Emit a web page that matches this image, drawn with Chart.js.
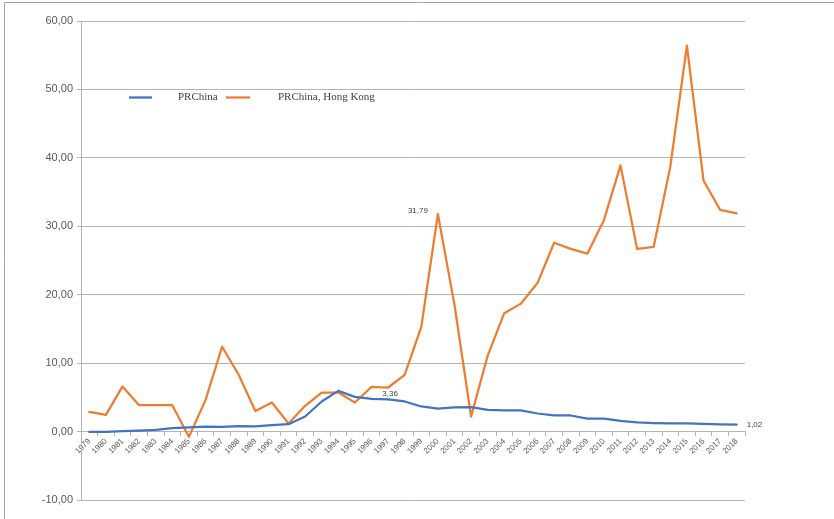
<!DOCTYPE html>
<html>
<head>
<meta charset="utf-8">
<script src="https://cdn.jsdelivr.net/npm/chart.js@4.4.1/dist/chart.umd.min.js"></script>
<style>
html,body{margin:0;padding:0;background:#fff;}
#wrap{width:834px;height:519px;position:relative;}
</style>
</head>
<body>
<div id="wrap"><canvas id="c" width="834" height="519"></canvas></div>
<script>
const years = ['1979','1980','1981','1982','1983','1984','1985','1986','1987','1988','1989','1990','1991','1992','1993','1994','1995','1996','1997','1998','1999','2000','2001','2002','2003','2004','2005','2006','2007','2008','2009','2010','2011','2012','2013','2014','2015','2016','2017','2018'];
const prChina = [-0.05,-0.05,0.05,0.15,0.25,0.5,0.63,0.73,0.7,0.8,0.75,0.93,1.08,2.2,4.4,5.95,5.07,4.78,4.69,4.4,3.67,3.36,3.52,3.57,3.17,3.08,3.1,2.64,2.35,2.35,1.9,1.9,1.57,1.33,1.23,1.18,1.18,1.13,1.05,1.02];
const hongKong = [2.88,2.44,6.6,3.86,3.86,3.86,-0.77,4.6,12.4,8.3,3.0,4.25,1.18,3.76,5.7,5.7,4.25,6.54,6.44,8.3,15.3,31.79,18.5,2.2,11.1,17.3,18.7,21.7,27.6,26.7,26.0,30.9,38.9,26.7,27.0,38.7,56.4,36.7,32.4,31.9];
const seriesNames = ['PRChina','PRChina, Hong Kong'];
const yMin = -10, yMax = 60, yStep = 10;
const dataLabels = [
  {series:1, index:21, text:'31,79'},
  {series:0, index:21, text:'3,36'},
  {series:0, index:39, text:'1,02'}
];

const colors = ['#4472C4','#ED7D31'];
const gridColor = '#b4b4b4';

const labelOffsets = [
  {dx:-10, dy:-3, align:'right'},
  {dx:-40, dy:-15, align:'right'},
  {dx:10, dy:0, align:'left'}
];

const extras = {
  id:'extras',
  afterDraw(chart){
    const ctx = chart.ctx;
    ctx.save();
    ctx.strokeStyle = '#a6a6a6';
    ctx.lineWidth = 1;
    ctx.beginPath();
    ctx.moveTo(4.5, 519);
    ctx.lineTo(4.5, 2.5);
    ctx.lineTo(834, 2.5);
    ctx.stroke();
    ctx.font = '8px "Liberation Sans", Arial, sans-serif';
    ctx.fillStyle = '#404040';
    ctx.textBaseline = 'middle';
    dataLabels.forEach((d, i) => {
      const meta = chart.getDatasetMeta(d.series);
      const pt = meta.data[d.index];
      const o = labelOffsets[i];
      ctx.textAlign = o.align;
      ctx.fillText(d.text, pt.x + o.dx, pt.y + o.dy);
    });
    const items = [
      {x1:129, x2:152, tx:178},
      {x1:226, x2:250, tx:278}
    ];
    const ly = 97.5;
    ctx.font = '11px "Liberation Serif", "Times New Roman", serif';
    ctx.fillStyle = '#404040';
    ctx.textAlign = 'left';
    items.forEach((it, i) => {
      ctx.strokeStyle = colors[i];
      ctx.lineWidth = 2.25;
      ctx.beginPath();
      ctx.moveTo(it.x1, ly);
      ctx.lineTo(it.x2, ly);
      ctx.stroke();
      ctx.fillText(seriesNames[i], it.tx, ly);
    });
    ctx.restore();
  }
};

new Chart(document.getElementById('c'), {
  type:'line',
  data:{
    labels: years,
    datasets:[
      {label:seriesNames[0], data:prChina, borderColor:colors[0], backgroundColor:colors[0], borderWidth:2.25, pointRadius:0, tension:0, borderJoinStyle:'round', borderCapStyle:'round'},
      {label:seriesNames[1], data:hongKong, borderColor:colors[1], backgroundColor:colors[1], borderWidth:2.25, pointRadius:0, tension:0, borderJoinStyle:'round', borderCapStyle:'round'}
    ]
  },
  options:{
    responsive:false,
    animation:false,
    layout:{padding:{top:21, bottom:19, left:0, right:89}},
    plugins:{legend:{display:false}, tooltip:{enabled:false}},
    scales:{
      x:{
        position:{y:0},
        offset:true,
        grid:{drawOnChartArea:false, drawTicks:true, tickLength:4, offset:true, color:gridColor},
        border:{color:gridColor, width:1},
        ticks:{
          autoSkip:false, minRotation:45, maxRotation:45, padding:1,
          color:'#595959',
          font:{family:'"Liberation Sans", Arial, sans-serif', size:8}
        }
      },
      y:{
        min:yMin, max:yMax,
        afterFit(scale){ scale.width = 81; },
        grid:{color:gridColor, tickLength:4, drawTicks:true},
        border:{color:gridColor, width:1},
        ticks:{
          stepSize:yStep, padding:4, color:'#595959',
          font:{family:'"Liberation Sans", Arial, sans-serif', size:11},
          callback:(v)=>v.toFixed(2).replace('.', ',')
        }
      }
    }
  },
  plugins:[extras]
});
</script>
</body>
</html>
